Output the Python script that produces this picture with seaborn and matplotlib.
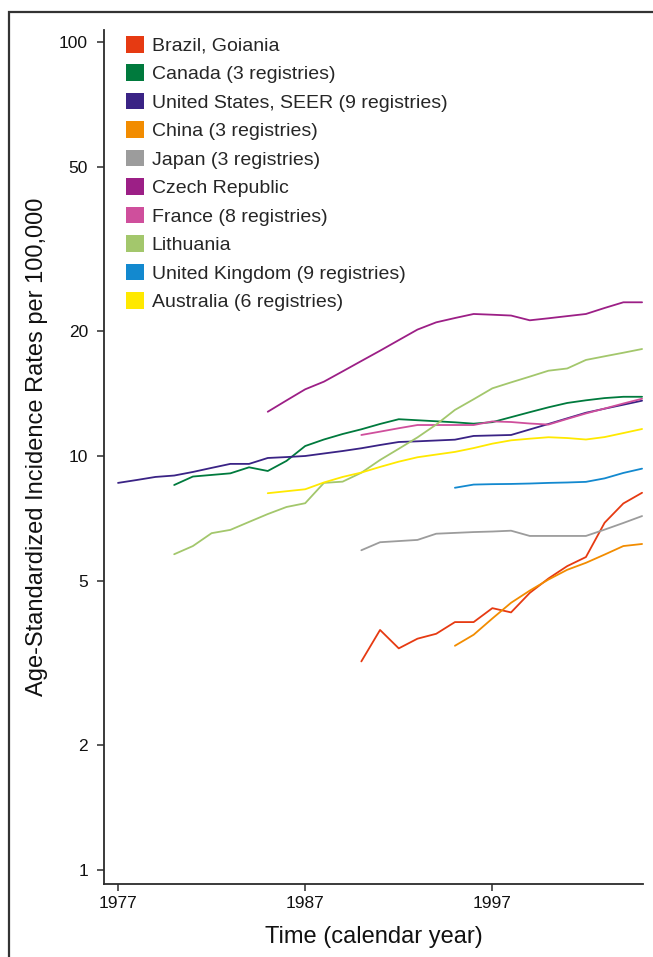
import matplotlib
matplotlib.use("Agg")
import matplotlib.pyplot as plt
from matplotlib.patches import Patch, Rectangle
import numpy as np
import pandas as pd
import seaborn as sns

# Age-standardized incidence rates per 100,000, by registry and calendar year
brazil_years = list(range(1990, 2006))
brazil = [3.19, 3.80, 3.43, 3.62, 3.72, 3.97, 3.97, 4.29, 4.19, 4.67, 5.06, 5.42, 5.70, 6.90, 7.68, 8.15]

canada_years = list(range(1980, 2006))
canada = [8.51, 8.92, 9.00, 9.08, 9.39, 9.20, 9.73, 10.57, 10.96, 11.30, 11.60, 11.95, 12.27,
          12.20, 12.13, 12.06, 11.97, 12.07, 12.41, 12.76, 13.11, 13.43, 13.63, 13.80, 13.90, 13.90]

usa_years = list(range(1977, 2006))
usa = [8.61, 8.75, 8.90, 8.97, 9.15, 9.36, 9.57, 9.57, 9.89, 9.94, 10.00, 10.14, 10.28, 10.44,
       10.63, 10.81, 10.85, 10.90, 10.95, 11.18, 11.21, 11.24, 11.59, 11.95, 12.33, 12.72,
       13.01, 13.30, 13.60]

china_years = list(range(1995, 2006))
china = [3.48, 3.70, 4.05, 4.42, 4.73, 5.03, 5.31, 5.52, 5.78, 6.06, 6.13]

japan_years = list(range(1990, 2006))
japan = [5.92, 6.19, 6.23, 6.27, 6.49, 6.52, 6.55, 6.57, 6.60, 6.41, 6.41, 6.41, 6.41, 6.64, 6.89, 7.16]

czech_years = list(range(1985, 2006))
czech = [12.79, 13.62, 14.49, 15.12, 16.01, 16.96, 17.96, 19.05, 20.20, 21.03, 21.54, 22.03,
         21.94, 21.84, 21.27, 21.51, 21.77, 22.03, 22.78, 23.51, 23.51]

france_years = list(range(1990, 2006))
france = [11.24, 11.45, 11.67, 11.88, 11.88, 11.88, 11.88, 12.12, 12.08, 11.98, 11.91, 12.29,
          12.67, 13.02, 13.39, 13.75]

lithuania_years = list(range(1980, 2006))
lithuania = [5.79, 6.06, 6.51, 6.63, 6.93, 7.24, 7.53, 7.69, 8.61, 8.67, 9.11, 9.78, 10.41,
             11.09, 11.91, 12.92, 13.71, 14.57, 15.06, 15.55, 16.07, 16.27, 17.06, 17.41, 17.76, 18.13]

uk_years = list(range(1995, 2006))
uk = [8.38, 8.53, 8.55, 8.56, 8.58, 8.61, 8.63, 8.66, 8.83, 9.10, 9.32]

australia_years = list(range(1985, 2006))
australia = [8.13, 8.22, 8.31, 8.63, 8.90, 9.12, 9.41, 9.69, 9.93, 10.08, 10.23, 10.45, 10.71,
             10.91, 11.01, 11.10, 11.05, 10.96, 11.11, 11.36, 11.62]

labels = ["Brazil, Goiania", "Canada (3 registries)", "United States, SEER (9 registries)",
          "China (3 registries)", "Japan (3 registries)", "Czech Republic",
          "France (8 registries)", "Lithuania", "United Kingdom (9 registries)",
          "Australia (6 registries)"]
colors = ["#E63A12", "#007A3D", "#3A2385", "#F28C00", "#9C9C9C", "#9C1F86",
          "#CF4F9C", "#A3C76C", "#1389CF", "#FFE900"]

series = [(brazil_years, brazil), (canada_years, canada), (usa_years, usa),
          (china_years, china), (japan_years, japan), (czech_years, czech),
          (france_years, france), (lithuania_years, lithuania), (uk_years, uk),
          (australia_years, australia)]

frames = []
for name, (yrs, vals) in zip(labels, series):
    frames.append(pd.DataFrame({"year": yrs, "rate": vals, "registry": name}))
df = pd.concat(frames, ignore_index=True)

y_ticks = [1, 2, 5, 10, 20, 50, 100]
x_ticks = [1977, 1987, 1997]

sns.set_theme(style="ticks")
plt.rcParams["font.family"] = ["Liberation Sans", "DejaVu Sans"]

fig = plt.figure(figsize=(6.53, 9.57), dpi=100)
ax = fig.add_axes([104 / 653, 1 - 884 / 957, 539 / 653, 854 / 957])

sns.lineplot(data=df, x="year", y="rate", hue="registry", hue_order=labels,
             palette=dict(zip(labels, colors)), estimator=None, linewidth=1.3,
             legend=False, ax=ax)

ax.set_yscale("log")
ax.set_ylim(0.925, 106.9)
ax.set_xlim(1976.25, 2005.05)
ax.set_yticks(y_ticks)
ax.set_yticklabels([str(t) for t in y_ticks])
ax.yaxis.set_minor_locator(matplotlib.ticker.NullLocator())
ax.set_xticks(x_ticks)
ax.set_xticklabels([str(t) for t in x_ticks])

for side in ("top", "right"):
    ax.spines[side].set_visible(False)
for side in ("left", "bottom"):
    ax.spines[side].set_color("#2b2b2b")
    ax.spines[side].set_linewidth(1.3)
ax.tick_params(axis="both", which="major", length=5, width=1.1, color="#2b2b2b",
               labelsize=12.5, pad=4, labelcolor="#111111")
ax.tick_params(axis="y", pad=6.5)

ax.set_xlabel("Time (calendar year)", fontsize=17, color="#111111", va="center")
ax.set_ylabel("Age-Standardized Incidence Rates per 100,000", fontsize=17,
              color="#111111", va="center")
ax.xaxis.set_label_coords(0.5, -0.062)
ax.yaxis.set_label_coords(-0.124, 0.512)

handles = [Patch(facecolor=c, edgecolor="none") for c in colors]
fig.legend(handles, labels, loc="upper left", bbox_to_anchor=(126 / 653, 1 - 36 / 957),
           frameon=False, fontsize=14, handlelength=0.93, handleheight=0.93,
           handletextpad=0.4, labelspacing=0.49, borderpad=0, borderaxespad=0)

# thin frame around the figure panel
fig.patches.append(Rectangle((9 / 653, -0.05), 1.2, 1 - 12 / 957 + 0.05,
                             transform=fig.transFigure, fill=False,
                             edgecolor="#333333", linewidth=1.6))

fig.savefig("out.png", dpi=100)
